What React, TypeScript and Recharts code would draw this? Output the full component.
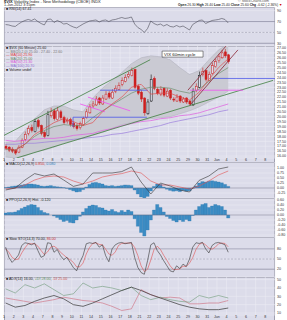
import React from 'react'
import {
  ComposedChart, Bar, Line, Area, XAxis, YAxis, CartesianGrid, ReferenceLine, ReferenceArea,
} from 'recharts'

const BG = '#dcdcea'
const GRID = '#ebebf4'
const FONT = '"Liberation Sans", Arial, sans-serif'

// day tick labels (3 hourly-ish bars per day)
const dayLabels = ['1', '2', '3', '4', '7', '8', '9', '10', '11', '14', '15', '16', '17', '18', '21', '22', '23', '24', '25', '29', '30', '31', 'Jun', '4', '5', '6', '7', '8']

// candles
const opens = [17.0, 16.9, 16.7, 16.6, 16.4, 16.9, 17.7, 18.3, 18.9, 18.5, 19.6, 19.1, 18.4, 18.1, 20.1, 20.6, 19.7, 20.5, 19.9, 19.5, 19.7, 19.3, 19.1, 18.9, 19.2, 19.9, 20.4, 21.1, 21.2, 21.9, 21.3, 21.8, 22.4, 21.9, 22.6, 22.8, 23.3, 23.6, 24.1, 24.2, 24.8, 23.1, 22.5, 21.9, 20.3, 21.6, 23.9, 22.8, 22.3, 22.9, 22.1, 22.7, 21.8, 21.6, 22.1, 21.5, 21.9, 21.6, 21.2, 22.7, 23.0, 24.3, 24.7, 23.7, 24.4, 25.1, 25.7, 26.0, 26.6, 26.3]
const highs = [17.2, 17.0, 16.9, 16.7, 17.1, 17.8, 18.5, 19.1, 19.2, 19.8, 19.8, 19.2, 18.6, 20.6, 20.9, 20.8, 21.0, 20.7, 20.1, 19.9, 19.9, 19.5, 19.3, 19.5, 20.0, 20.8, 21.3, 21.6, 22.1, 22.0, 22.2, 22.6, 22.6, 22.8, 23.2, 23.5, 24.0, 24.3, 24.6, 25.0, 24.9, 23.3, 22.7, 22.0, 21.8, 24.3, 24.1, 23.0, 23.1, 23.0, 22.9, 22.8, 22.0, 22.3, 22.2, 22.0, 22.0, 21.7, 22.9, 23.4, 24.6, 25.0, 24.8, 24.6, 25.5, 25.9, 26.4, 26.8, 26.9, 26.4]
const lows = [16.6, 16.4, 16.3, 16.1, 16.3, 16.8, 17.5, 18.1, 18.4, 18.4, 18.8, 18.1, 17.8, 18.0, 19.9, 19.6, 19.6, 19.7, 19.2, 19.3, 19.0, 18.8, 18.6, 18.7, 19.1, 19.8, 20.3, 20.9, 21.1, 21.2, 21.2, 21.7, 21.8, 21.8, 22.4, 22.7, 23.1, 23.5, 23.9, 24.1, 22.8, 22.2, 21.5, 20.1, 20.2, 21.5, 22.7, 22.2, 22.1, 22.0, 22.0, 21.7, 21.5, 21.5, 21.4, 21.4, 21.3, 21.1, 21.1, 22.5, 22.9, 24.1, 23.6, 23.6, 24.3, 25.0, 25.5, 25.9, 26.0, 25.4]
const closes = [16.8, 16.6, 16.5, 16.3, 16.9, 17.6, 18.2, 18.8, 18.6, 19.5, 19.0, 18.3, 18.0, 20.2, 20.5, 19.8, 20.6, 19.9, 19.4, 19.6, 19.2, 19.0, 18.8, 19.3, 19.8, 20.5, 21.0, 21.3, 21.8, 21.4, 21.9, 22.3, 22.0, 22.5, 22.9, 23.2, 23.7, 24.0, 24.3, 24.7, 23.0, 22.4, 21.8, 20.4, 21.5, 23.8, 22.9, 22.4, 22.8, 22.2, 22.6, 21.9, 21.7, 22.0, 21.6, 21.8, 21.5, 21.3, 22.6, 23.1, 24.2, 24.6, 23.8, 24.3, 25.2, 25.6, 26.1, 26.5, 26.2, 25.6]

// overlays, one value per day
const bbUpper = [17.4, 17.5, 18.6, 19.8, 20.7, 21.1, 21.1, 20.7, 20.5, 21.9, 22.9, 23.7, 24.5, 25.4, 26.0, 26.2, 26.1, 25.8, 25.0, 24.3, 24.7, 25.8, 26.8, 27.4]
const bbLower = [15.9, 15.8, 16.0, 16.4, 16.6, 16.9, 17.3, 17.6, 17.8, 18.1, 18.4, 18.8, 19.2, 19.4, 19.6, 19.8, 19.9, 20.0, 20.3, 20.6, 21.0, 21.5, 22.0, 22.6]
const ma10 = [16.8, 16.6, 17.2, 18.2, 18.8, 19.4, 19.8, 19.5, 19.1, 19.4, 20.5, 21.3, 22.0, 23.0, 23.3, 22.3, 22.4, 22.4, 22.0, 21.7, 22.5, 23.8, 25.0, 25.9]
const ma20 = [16.7, 16.6, 17.2, 18.0, 18.6, 19.0, 19.2, 19.1, 19.1, 19.9, 20.6, 21.2, 21.8, 22.4, 22.8, 23.0, 23.0, 22.9, 22.6, 22.4, 22.8, 23.6, 24.4, 25.0]
const ma50 = [17.6, 17.5, 17.6, 17.7, 17.8, 17.8, 17.9, 18.1, 18.2, 18.3, 18.6, 18.8, 19.1, 19.3, 19.5, 19.6, 19.8, 19.9, 20.1, 20.2, 20.4, 20.7, 21.0, 21.3]
const ma100 = [17.2, 17.2, 17.3, 17.3, 17.4, 17.5, 17.6, 17.7, 17.8, 17.9, 18.0, 18.2, 18.3, 18.5, 18.7, 18.9, 19.1, 19.4, 19.6, 19.8, 20.0, 20.2, 20.5, 20.7]

// hand-drawn lines [bar, price]
const greenLines = [[[0, 18.1], [45.3, 25.8]], [[3.9, 15.8], [83.4, 23.7]]]
const channelLines = [[[57.0, 22.7], [68.8, 27.19]], [[57.7, 21.2], [72.5, 26.8]]]
const blueLines = [[[29.8, 22.7], [44.6, 22.7]], [[21.4, 19.95], [44.3, 19.95]], [[21.4, 19.95], [21.4, 18.95]], [[64.5, 23.9], [84, 23.9]]]
const pinkLines = [[[26.0, 22.0], [39.1, 20.6]], [[23.6, 21.3], [31.3, 20.5]], [[57.7, 22.7], [74.1, 22.7]]]
const cycleBox = [49, 61.7, 26.07, 26.68]

// indicators
const rsi = [64.5, 63.7, 61.8, 61, 65.5, 69.2, 72, 73.8, 72, 74.7, 70, 66.4, 63.7, 73.8, 74.7, 68.3, 72, 69.2, 65.5, 66.4, 62.7, 60, 58.2, 61.8, 65.5, 68.3, 71, 72, 72.9, 69.2, 72, 72.9, 70, 72.9, 73.8, 75.7, 77.5, 75.7, 76.6, 78.4, 65.5, 59, 55.4, 49.9, 57.2, 71, 66.4, 63.7, 65.5, 61.8, 64.6, 61, 60, 62.7, 60, 61.8, 58.2, 54.5, 64.6, 68.3, 72, 72.9, 66.4, 69.2, 72, 72.9, 73.8, 75.7, 73.8, 67.4]
const macd = [-0.1, 0.0, 0.4, 0.72, 0.6, 0.7, 0.4, 0.08, 0.2, 0.75, 0.75, 0.75, 0.82, 1.05, 0.3, -0.3, 0.25, 0.1, -0.1, -0.2, 0.38, 0.6, 0.95, 1.05]
const macdSignal = [-0.05, 0.0, 0.15, 0.4, 0.55, 0.6, 0.55, 0.35, 0.2, 0.35, 0.55, 0.65, 0.72, 0.85, 0.75, 0.35, 0.15, 0.15, 0.05, -0.05, 0.1, 0.35, 0.65, 0.85]
const macdHist = [0.02, 0.05, 0.08, 0.1, 0.12, 0.15, 0.18, 0.2, 0.2, 0.18, 0.15, 0.1, 0.08, 0.1, 0.12, 0.08, 0.06, 0.04, 0.02, -0.02, -0.08, -0.14, -0.2, -0.18, -0.08, 0.05, 0.18, 0.26, 0.28, 0.24, 0.2, 0.12, 0.1, 0.12, 0.08, 0.1, 0.12, 0.15, 0.14, 0.12, -0.1, -0.3, -0.45, -0.55, -0.42, -0.15, 0.08, 0.2, 0.18, 0.05, -0.06, -0.12, -0.16, -0.14, -0.18, -0.12, -0.16, -0.14, -0.02, 0.1, 0.25, 0.32, 0.3, 0.34, 0.36, 0.33, 0.3, 0.26, 0.18, 0.08]
const ppoHist = [0.08, 0.1, 0.1, 0.12, 0.18, 0.26, 0.32, 0.38, 0.42, 0.4, 0.3, 0.18, 0.1, 0.06, 0.0, -0.04, -0.1, -0.18, -0.26, -0.22, -0.3, -0.32, -0.2, -0.05, 0.12, 0.26, 0.36, 0.4, 0.38, 0.3, 0.28, 0.2, 0.16, 0.22, 0.14, 0.1, 0.18, 0.12, 0.2, 0.14, -0.15, -0.45, -0.7, -0.84, -0.6, -0.2, 0.2, 0.42, 0.3, 0.12, -0.06, -0.14, -0.22, -0.28, -0.2, -0.26, -0.18, -0.24, -0.02, 0.2, 0.34, 0.42, 0.46, 0.3, 0.36, 0.42, 0.38, 0.34, 0.2, -0.12]
const stochK = [85, 55, 40, 50, 62, 90, 98, 96, 92, 97, 75, 55, 60, 98, 96, 70, 78, 60, 48, 55, 40, 25, 15, 40, 60, 95, 98, 96, 99, 85, 92, 60, 42, 80, 92, 97, 99, 95, 97, 99, 55, 25, 10, 5, 45, 92, 98, 75, 62, 45, 30, 15, 12, 30, 22, 35, 28, 50, 85, 98, 96, 99, 80, 68, 90, 97, 99, 96, 92, 70]
const stochD = [80, 70, 55, 48, 50, 68, 83, 95, 95, 95, 88, 75, 63, 71, 85, 88, 81, 70, 62, 54, 48, 40, 27, 27, 38, 65, 84, 96, 98, 93, 92, 79, 65, 61, 71, 90, 96, 97, 97, 97, 84, 60, 30, 13, 20, 47, 78, 88, 78, 61, 46, 30, 19, 19, 21, 29, 28, 38, 54, 78, 93, 98, 92, 82, 79, 85, 95, 97, 96, 86]
const adx = [22, 17, 19, 24, 28, 31, 27, 20, 18, 22, 27, 32, 37, 41, 37, 32, 28, 24, 20, 17, 15, 14, 14, 16]
const plusDI = [39, 34, 44, 40, 45, 38, 31, 33, 46, 40, 42, 40, 37, 41, 31, 26, 29, 26, 24, 23, 31, 28, 31, 28]
const minusDI = [28, 26, 24, 22, 24, 26, 29, 27, 25, 24, 22, 18, 13, 15, 38, 32, 28, 29, 28, 21, 21, 22, 22, 25]

const priceTicks = [16, 16.5, 17, 17.5, 18, 18.5, 19, 19.5, 20, 20.5, 21, 21.5, 22, 22.5, 23, 23.5, 24, 24.5, 25, 25.5, 26, 26.5, 27]

const xTicks = dayLabels.map((_, i) => i * 3)
const candles = closes.map((c, i) => ({ x: i + 0.5, o: opens[i], h: highs[i], l: lows[i], c, r: [lows[i], highs[i]] }))
const perBar = (vals: number[]) => vals.map((v, i) => ({ x: i + 0.5, v }))
const perDay = (vals: number[]) => vals.map((v, k) => ({ x: k * 3 + 0.5, v }))
const bbData = bbUpper.map((u, k) => ({ x: k * 3 + 0.5, r: [bbLower[k], u] }))

function Candle(p: any) {
  const { x, y, width, height, payload } = p
  if (!payload || height == null) return null
  const { o, h, l, c } = payload
  const top = Math.min(y, y + height)
  const hh = Math.abs(height)
  const k = hh / (h - l)
  const cx = x + width / 2
  const b1 = top + (h - Math.max(o, c)) * k
  const b2 = top + (h - Math.min(o, c)) * k
  const col = c - o >= 1 ? '#111' : '#cc1f1f'
  return (
    <g>
      <line x1={cx} x2={cx} y1={top} y2={top + hh} stroke={col} strokeWidth={0.6} />
      <rect x={cx - 1} y={b1} width={2} height={Math.max(b2 - b1, 0.6)}
        fill={c < o ? col : BG} stroke={col} strokeWidth={0.5} />
    </g>
  )
}

const seg = (pts: number[][], color: string, key: string, w = 0.8) => (
  <ReferenceLine key={key} segment={[{ x: pts[0][0], y: pts[0][1] }, { x: pts[1][0], y: pts[1][1] }]}
    stroke={color} strokeWidth={w} ifOverflow="hidden" />
)

const line = (data: any[], color: string, key: string, w = 0.6) => (
  <Line key={key} data={data} dataKey="v" type="linear" stroke={color} strokeWidth={w}
    dot={false} isAnimationActive={false} />
)

const txt = (s: string, color = '#222'): React.CSSProperties => ({ color, fontFamily: FONT, fontSize: s === 'h' ? 4 : 3.6, lineHeight: '3.6px', whiteSpace: 'nowrap' })

function Panel({ top, height, xh = 0, domain, ticks, fmt, data, children, legend }: {
  top: number; height: number; xh?: number; domain: [number, number]; ticks: number[]
  fmt: (v: number) => string; data?: any[]; children: React.ReactNode; legend?: React.ReactNode
}) {
  return (
    <div style={{ position: 'absolute', left: 0, top, width: 287, height }}>
      <div style={{
        position: 'absolute', left: 4, top: 0, width: 271, height, background: BG,
        borderTop: '1px solid #a0a0b0', borderLeft: '1px solid #a0a0b0', borderRight: '1px solid #a0a0b0', boxSizing: 'border-box',
      }} />
      <div style={{ position: 'absolute', left: 0, top: 0 }}>
        <ComposedChart width={287} height={height} data={data} margin={{ top: 0, right: 0, bottom: 0, left: 4 }}>
          <CartesianGrid stroke={GRID} strokeWidth={0.6} />
          <XAxis type="number" dataKey="x" domain={[0, 84]} ticks={xTicks} interval={0} allowDataOverflow
            height={xh} tick={xh ? { fontSize: 3.6, fill: '#333', fontFamily: FONT } : false}
            tickFormatter={(v: number) => dayLabels[Math.round(v / 3)]}
            axisLine={false} tickLine={false} tickSize={0} tickMargin={0} />
          <YAxis orientation="right" type="number" domain={domain} ticks={ticks} interval={0} allowDataOverflow
            width={12} tick={{ fontSize: 3.6, fill: '#333', fontFamily: FONT }} tickFormatter={fmt}
            axisLine={false} tickLine={false} tickSize={1} tickMargin={1} />
          {children}
        </ComposedChart>
      </div>
      {legend}
    </div>
  )
}

export default function App() {
  return (
    <div style={{ position: 'fixed', left: 0, top: 0, width: 287, height: 320, background: '#fff', overflow: 'hidden' }}>
      {/* header */}
      <div style={{ position: 'absolute', left: 4, top: 0, ...txt('h') }}>
        <b>$VIX</b> Volatility Index - New Methodology (CBOE) INDX
      </div>
      <div style={{ position: 'absolute', left: 4, top: 3.6, ...txt('s') }}>1-Jun-2012 3:15pm</div>
      <div style={{ position: 'absolute', left: 238, top: 0, ...txt('s', '#555') }}>© StockCharts.com</div>
      <div style={{ position: 'absolute', left: 178, top: 3.6, ...txt('s'), fontSize: 3.3 }}>
        <b>Open</b> 26.30 <b>High</b> 26.40 <b>Low</b> 25.40 <b>Close</b> 25.60 <b>Chg</b> -0.62 (-2.36%) <span style={{ color: '#c00' }}>▼</span>
      </div>

      {/* RSI */}
      <Panel top={7} height={39} domain={[25, 96.8]} ticks={[30, 50, 70, 90]} fmt={(v) => String(v)}
        legend={<div style={{ position: 'absolute', left: 6, top: 1, ...txt('s') }}>■ RSI(14) 67.41</div>}>
        {[
          <ReferenceLine key="r70" y={70} stroke="#70708a" strokeWidth={0.6} />,
          <ReferenceLine key="r50" y={50} stroke="#8a8aa0" strokeWidth={0.5} strokeDasharray="2 1.5" />,
          <ReferenceLine key="r30" y={30} stroke="#70708a" strokeWidth={0.6} />,
          line(perBar(rsi), '#4a4a55', 'rsi', 0.6),
        ]}
      </Panel>

      {/* price */}
      <Panel top={46} height={116} xh={4} domain={[15.8, 27.2]} ticks={priceTicks} fmt={(v) => v.toFixed(2)} data={candles}
        legend={
          <div style={{ position: 'absolute', left: 6, top: 1 }}>
            <div style={txt('s')}>■ $VIX (60 Minute) 25.60</div>
            <div style={txt('s', '#777')}>— BB(20,2.0) 25.00 - 27.40 - 22.60</div>
            <div style={txt('s', '#d33')}>— MA(10) 25.90</div>
            <div style={txt('s', '#5f7f5f')}>— MA(20) 25.00</div>
            <div style={txt('s', '#d84fd8')}>— MA(50) 21.30</div>
            <div style={txt('s', '#8a6ad0')}>— MA(100) 20.70</div>
            <div style={txt('s')}>■ Volume undef</div>
          </div>
        }>
        {[
          <Area key="bb" data={bbData} dataKey="r" type="linear" fill="#cacad3" fillOpacity={1}
            stroke="#adadb8" strokeWidth={0.5} isAnimationActive={false} />,
          line(perDay(ma100), '#9b7ddc', 'ma100', 0.7),
          line(perDay(ma50), '#e05ce0', 'ma50', 0.7),
          line(perDay(ma20), '#6f8f6f', 'ma20', 0.7),
          ...greenLines.map((p, i) => seg(p, '#3f7f3f', 'g' + i, 0.8)),
          ...blueLines.map((p, i) => seg(p, '#4a55e8', 'b' + i, 0.8)),
          ...pinkLines.map((p, i) => seg(p, '#f050f0', 'p' + i, 0.8)),
          <Bar key="candles" dataKey="r" barSize={2} shape={Candle} isAnimationActive={false} />,
          line(perDay(ma10), '#e23b3b', 'ma10', 0.6),
          ...channelLines.map((p, i) => seg(p, '#8a2535', 'c' + i, 0.8)),
          <ReferenceArea key="box" x1={cycleBox[0]} x2={cycleBox[1]} y1={cycleBox[2]} y2={cycleBox[3]}
            fill="#fff" fillOpacity={1} stroke="#222" strokeWidth={0.5} ifOverflow="visible"
            label={{ value: 'VIX 60min cycle', position: 'insideLeft', fontSize: 4.4, fill: '#111', fontFamily: FONT, offset: 2 }} />,
        ]}
      </Panel>

      {/* MACD */}
      <Panel top={162} height={36} domain={[-0.5, 1.3]} ticks={[-0.25, 0, 0.25, 0.5, 0.75, 1.0]} fmt={(v) => v.toFixed(2)} data={perBar(macdHist)}
        legend={<div style={{ position: 'absolute', left: 6, top: 1, ...txt('s') }}>■ MACD(12,26,9) <span style={{ color: '#c33' }}>0.850</span>, <span style={{ color: '#2f7fba' }}>0.080</span></div>}>
        {[
          <ReferenceLine key="z" y={0} stroke="#70708a" strokeWidth={0.5} />,
          <Bar key="h" dataKey="v" barSize={3.2} fill="#3b8cc4" stroke="#2f78ad" strokeWidth={0.3} isAnimationActive={false} />,
          line(perDay(macdSignal), '#e05050', 'sig', 0.6),
          line(perDay(macd), '#333', 'macd', 0.6),
        ]}
      </Panel>

      {/* PPO histogram */}
      <Panel top={198} height={39} domain={[-0.88, 0.68]} ticks={[-0.8, -0.6, -0.4, -0.2, 0, 0.2, 0.4, 0.6]} fmt={(v) => v.toFixed(2)} data={perBar(ppoHist)}
        legend={<div style={{ position: 'absolute', left: 6, top: 1, ...txt('s') }}>■ PPO(12,26,9) Hist. -0.120</div>}>
        {[
          <ReferenceLine key="z" y={0} stroke="#70708a" strokeWidth={0.5} />,
          <Bar key="h" dataKey="v" barSize={3.2} fill="#3b8cc4" stroke="#2f78ad" strokeWidth={0.3} isAnimationActive={false} />,
        ]}
      </Panel>

      {/* Slow stochastic */}
      <Panel top={237} height={40} domain={[-3, 115]} ticks={[20, 50, 80]} fmt={(v) => String(v)}
        legend={<div style={{ position: 'absolute', left: 6, top: 1, ...txt('s') }}>■ Slow STO(14,3) 70.00, <span style={{ color: '#c33' }}>86.00</span></div>}>
        {[
          <ReferenceLine key="s80" y={80} stroke="#70708a" strokeWidth={0.5} />,
          <ReferenceLine key="s50" y={50} stroke="#8a8aa0" strokeWidth={0.5} strokeDasharray="2 1.5" />,
          <ReferenceLine key="s20" y={20} stroke="#70708a" strokeWidth={0.6} />,
          line(perBar(stochD), '#e05050', 'd', 0.6),
          line(perBar(stochK), '#333', 'k', 0.6),
        ]}
      </Panel>

      {/* ADX */}
      <Panel top={277} height={43} xh={5} domain={[7.6, 53.2]} ticks={[10, 20, 30, 40, 50]} fmt={(v) => String(v)}
        legend={<div style={{ position: 'absolute', left: 6, top: 1, ...txt('s') }}>■ ADX(14) 16.00, <span style={{ color: '#5f8f5f' }}>+DI 28.00</span>, <span style={{ color: '#c55' }}>-DI 25.00</span></div>}>
        {[
          line(perDay(minusDI), '#cf6a7a', 'mdi', 0.6),
          line(perDay(plusDI), '#6f9a78', 'pdi', 0.6),
          line(perDay(adx), '#333', 'adx', 0.7),
        ]}
      </Panel>
    </div>
  )
}
